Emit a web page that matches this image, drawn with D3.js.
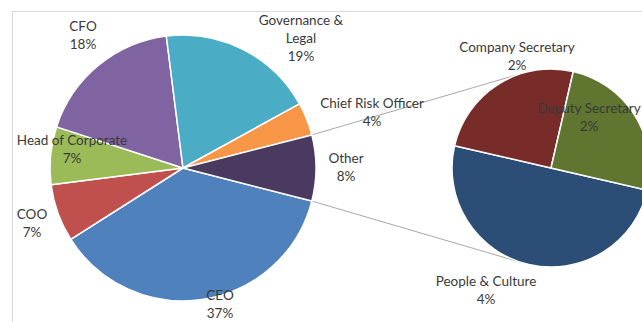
<!DOCTYPE html>
<html>
<head>
<meta charset="utf-8">
<script src="https://cdn.jsdelivr.net/npm/d3@7"></script>
<style>
  html, body { margin: 0; padding: 0; background: #fff; }
  svg { display: block; }
  .lbl { font-family: Lato, "Open Sans", sans-serif; font-size: 13.5px; fill: #3A3A3A; }
</style>
</head>
<body>
<svg id="chart" width="642" height="322"></svg>
<script>
// Primary pie: the last category ("Other") is broken out into the secondary pie.
const mainCategories = ["CEO", "COO", "Head of Corporate", "CFO", "Governance & Legal", "Chief Risk Officer", "Other"];
const mainValues = [37, 7, 7, 18, 19, 4, 8];

// Secondary pie: breakdown of "Other".
const splitCategories = ["People & Culture", "Company Secretary", "Deputy Secretary"];
const splitValues = [4, 2, 2];

// Label lines (name may wrap over two lines) and percentage text.
const mainLabelLines = [["CEO"], ["COO"], ["Head of Corporate"], ["CFO"], ["Governance &", "Legal"], ["Chief Risk Officer"], ["Other"]];
const splitLabelLines = [["People & Culture"], ["Company Secretary"], ["Deputy Secretary"]];

// ---- styling / layout ----
const mainColors = ["#4F81BD", "#C0504D", "#9BBB59", "#8064A2", "#4BACC6", "#F79646", "#4B3A60"];
const splitColors = ["#2C4D75", "#772C2A", "#5F7530"];

const W = 642, H = 322;
const mainCenter = [183, 168], mainR = 133;
const splitCenter = [551, 168], splitR = 99;
const splitRotation = 103 * Math.PI / 180;
const lineH = 18;

// label anchor offsets (from each pie's centre) for the first text line
const mainLabelOffsets = {
  "CEO": [37, 129], "COO": [-151, 48], "Head of Corporate": [-111, -26], "CFO": [-100, -140],
  "Governance & Legal": [118, -146], "Chief Risk Officer": [189, -63], "Other": [163, -8]
};
const splitLabelOffsets = {
  "People & Culture": [-65, 115], "Company Secretary": [-34, -119], "Deputy Secretary": [38, -58]
};

const svg = d3.select("#chart");

// chart-area frame
svg.append("rect")
  .attr("x", 12.5).attr("y", 11.5)
  .attr("width", W + 20).attr("height", H + 20)
  .attr("fill", "none").attr("stroke", "#D9D9D9").attr("stroke-width", 1);

const total = d3.sum(mainValues);
const otherFrac = mainValues[mainValues.length - 1] / total;
// rotate so the "Other" slice is centred on the 3 o'clock direction
const mainStart = Math.PI / 2 + otherFrac * Math.PI;

const mainPie = d3.pie().sort(null).value(d => d)
  .startAngle(mainStart).endAngle(mainStart + 2 * Math.PI);
const mainArcs = mainPie(mainValues);

const splitPie = d3.pie().sort(null).value(d => d)
  .startAngle(splitRotation).endAngle(splitRotation + 2 * Math.PI);
const splitArcs = splitPie(splitValues);

const arcMain = d3.arc().innerRadius(0).outerRadius(mainR);
const arcSplit = d3.arc().innerRadius(0).outerRadius(splitR);

// series lines: from the edges of "Other" tangent to the secondary pie
const otherArc = mainArcs[mainArcs.length - 1];
function polar(c, r, a) { return [c[0] + r * Math.sin(a), c[1] - r * Math.cos(a)]; }
function tangentPoint(p, c, r, side) {
  const dx = c[0] - p[0], dy = c[1] - p[1];
  const d = Math.hypot(dx, dy);
  const base = Math.atan2(dy, dx);
  const half = Math.asin(r / d);
  const dir = base + side * half;          // direction of tangent line
  const len = Math.sqrt(d * d - r * r);
  return [p[0] + len * Math.cos(dir), p[1] + len * Math.sin(dir)];
}
const pTop = polar(mainCenter, mainR, otherArc.startAngle);
const pBot = polar(mainCenter, mainR, otherArc.endAngle);
const tTop = tangentPoint(pTop, splitCenter, splitR, -1);
const tBot = tangentPoint(pBot, splitCenter, splitR, 1);

svg.append("g").selectAll("line")
  .data([[pTop, tTop], [pBot, tBot]])
  .join("line")
  .attr("x1", d => d[0][0]).attr("y1", d => d[0][1])
  .attr("x2", d => d[1][0]).attr("y2", d => d[1][1])
  .attr("stroke", "#A6A6A6").attr("stroke-width", 1);

// primary pie
svg.append("g").attr("transform", `translate(${mainCenter})`)
  .selectAll("path").data(mainArcs).join("path")
  .attr("d", arcMain)
  .attr("fill", (d, i) => mainColors[i])
  .attr("stroke", "#fff").attr("stroke-width", 1.5).attr("stroke-linejoin", "round");

// secondary pie
svg.append("g").attr("transform", `translate(${splitCenter})`)
  .selectAll("path").data(splitArcs).join("path")
  .attr("d", arcSplit)
  .attr("fill", (d, i) => splitColors[i])
  .attr("stroke", "#fff").attr("stroke-width", 1.5).attr("stroke-linejoin", "round");

// data labels: name lines + percentage
function drawLabels(center, cats, lines, values, offsets) {
  const g = svg.append("g").attr("transform", `translate(${center})`);
  cats.forEach((c, i) => {
    const [ox, oy] = offsets[c];
    const pct = d3.format(".0%")(values[i] / total);
    const t = g.append("text").attr("class", "lbl").attr("text-anchor", "middle")
      .attr("x", ox).attr("y", oy).attr("dominant-baseline", "middle");
    lines[i].concat([pct]).forEach((s, k) => {
      t.append("tspan").attr("x", ox).attr("y", oy + k * lineH).text(s);
    });
  });
}
drawLabels(mainCenter, mainCategories, mainLabelLines, mainValues, mainLabelOffsets);
drawLabels(splitCenter, splitCategories, splitLabelLines, splitValues, splitLabelOffsets);
</script>
</body>
</html>
